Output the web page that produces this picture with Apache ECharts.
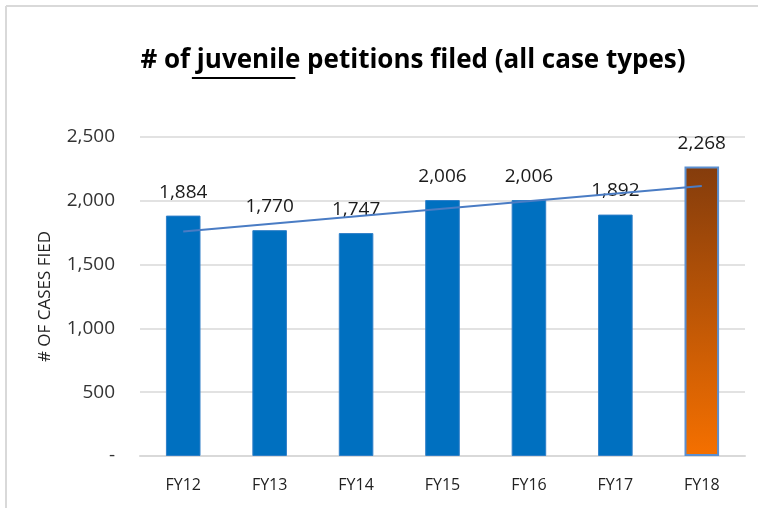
<!DOCTYPE html>
<html>
<head>
<meta charset="utf-8">
<script src="https://cdn.jsdelivr.net/npm/echarts@6/dist/echarts.min.js"></script>
<style>
  html, body { margin: 0; padding: 0; background: #fff; }
  #chart { width: 758px; height: 508px; }
</style>
</head>
<body>
<div id="chart"></div>
<script>
// values
const categories = ['FY12', 'FY13', 'FY14', 'FY15', 'FY16', 'FY17', 'FY18']
const petitions = [1884, 1770, 1747, 2006, 2006, 1892, 2268]
// linear trend line, endpoints
const trendValues = [1760, null, null, null, null, null, 2116]
const yTicks = [0, 500, 1000, 1500, 2000, 2500]

const titleFont = 'bold 26px "Open Sans"'
const titlePre = '# of '
const titleUnder = 'juvenile'
const titlePost = ' petitions filed (all case types)'

const chart = echarts.init(document.getElementById('chart'))

// measure title pieces so the underline sits under "juvenile"
const ctx = document.createElement('canvas').getContext('2d')
ctx.font = titleFont
const wPre = ctx.measureText(titlePre).width
const wUnder = ctx.measureText(titleUnder).width
const wAll = ctx.measureText(titlePre + titleUnder + titlePost).width
const titleCx = 408
const ulStart = titleCx - wAll / 2 + wPre

const barColor = '#0070C0'
const lastColor = new echarts.graphic.LinearGradient(0, 0, 0, 1, [
  { offset: 0, color: '#843C0C' },
  { offset: 1, color: '#F57000' },
])

chart.setOption({
  animation: false,
  title: {
    text: titlePre + titleUnder + titlePost,
    left: titleCx,
    top: 43,
    textAlign: 'center',
    textStyle: { fontFamily: 'Open Sans', fontWeight: 'bold', fontSize: 26, color: '#000' },
  },
  graphic: [
    { type: 'line', shape: { x1: ulStart, y1: 78, x2: ulStart + wUnder, y2: 78 }, style: { stroke: '#000', lineWidth: 2 } },
    { type: 'line', shape: { x1: 6, y1: 6, x2: 758, y2: 6 }, style: { stroke: '#d9d9d9', lineWidth: 2 } },
    { type: 'line', shape: { x1: 6, y1: 6, x2: 6, y2: 508 }, style: { stroke: '#d9d9d9', lineWidth: 2 } },
  ],
  grid: { left: 140, right: 13, top: 137, bottom: 52 },
  xAxis: {
    type: 'category',
    data: categories,
    axisLine: { lineStyle: { color: '#d9d9d9', width: 2 } },
    axisTick: { show: false },
    axisLabel: { fontFamily: 'Open Sans', fontSize: 16, color: '#222', margin: 21 },
  },
  yAxis: {
    type: 'value',
    min: 0,
    max: 2500,
    interval: 500,
    name: '# OF CASES FIED',
    nameLocation: 'middle',
    nameGap: 86,
    nameTextStyle: { fontFamily: 'Open Sans', fontSize: 17, color: '#222' },
    axisLine: { show: false },
    axisTick: { show: false },
    splitLine: { lineStyle: { color: '#d9d9d9', width: 1.5 } },
    axisLabel: {
      fontFamily: 'Open Sans', fontSize: 19, color: '#333', margin: 25,
      formatter: v => yTicks.includes(v) ? (v === 0 ? '-' : v.toLocaleString('en-US')) : '',
    },
  },
  series: [
    {
      type: 'bar',
      barWidth: '40%',
      data: petitions.map((v, i) => ({
        value: v,
        itemStyle: i === petitions.length - 1
          ? { color: lastColor, borderColor: '#5B8FD0', borderWidth: 2 }
          : { color: barColor, borderColor: '#2F7FC8', borderWidth: 1 },
      })),
      label: {
        show: true,
        position: 'top',
        distance: 14,
        fontFamily: 'Open Sans',
        fontSize: 19,
        color: '#1a1a1a',
        formatter: p => p.value.toLocaleString('en-US'),
      },
    },
    {
      type: 'line',
      z: 5,
      data: trendValues,
      connectNulls: true,
      symbol: 'none',
      lineStyle: { color: '#4A7CC4', width: 2 },
    },
  ],
})
</script>
</body>
</html>
